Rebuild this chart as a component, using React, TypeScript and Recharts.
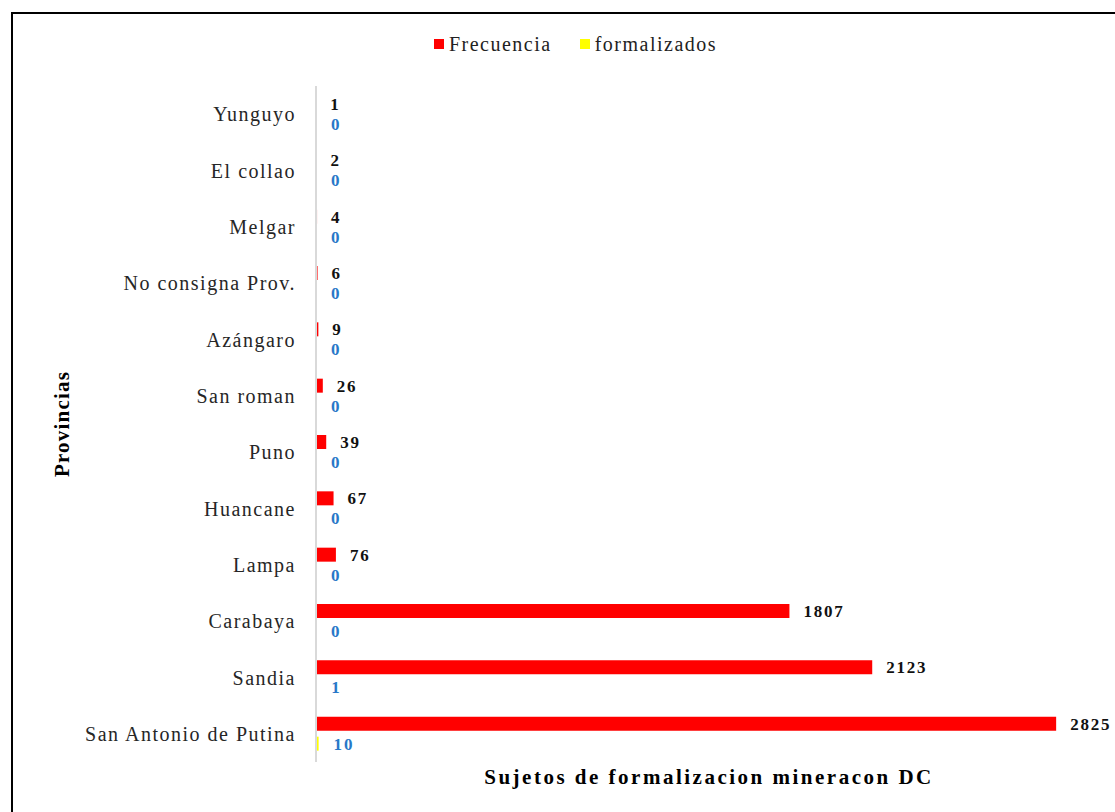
import React from 'react';
import { BarChart, Bar, XAxis, YAxis, Legend, LabelList } from 'recharts';

const provincias = [
  'Yunguyo',
  'El collao',
  'Melgar',
  'No consigna Prov.',
  'Azángaro',
  'San roman',
  'Puno',
  'Huancane',
  'Lampa',
  'Carabaya',
  'Sandia',
  'San Antonio de Putina',
];
const frecuencia = [1, 2, 4, 6, 9, 26, 39, 67, 76, 1807, 2123, 2825];
const formalizados = [0, 0, 0, 0, 0, 0, 0, 0, 0, 0, 1, 10];

const SERIF = '"Liberation Serif", "Times New Roman", serif';

const data = provincias.map((name, i) => ({
  name,
  frecuencia: frecuencia[i],
  formalizados: formalizados[i],
}));

// legend drawn by hand so the squares and spacing look like the Excel one
const renderLegend = () => (
  <div style={{ display: 'flex', justifyContent: 'center', height: 28, paddingLeft: 36, fontFamily: SERIF, fontSize: 20, letterSpacing: 1.5, color: '#222' }}>
    <span style={{ display: 'flex', alignItems: 'center', marginRight: 28 }}>
      <span style={{ width: 10, height: 10, background: '#FF0000', marginRight: 5 }} />
      Frecuencia
    </span>
    <span style={{ display: 'flex', alignItems: 'center' }}>
      <span style={{ width: 10, height: 10, background: '#FFFF00', marginRight: 5 }} />
      formalizados
    </span>
  </div>
);

const YTitle = (props: any) => {
  const { viewBox } = props;
  const x = viewBox.x + 62;
  const y = viewBox.y + viewBox.height / 2;
  return (
    <text x={x} y={y} transform={`rotate(-90 ${x} ${y})`} textAnchor="middle" dominantBaseline="central"
      fontFamily={SERIF} fontSize={21} fontWeight="bold" letterSpacing={1.2} fill="#000">
      Provincias
    </text>
  );
};

const XTitle = (props: any) => {
  const { viewBox } = props;
  return (
    <text x={viewBox.x + viewBox.width / 2} y={viewBox.y + 15} textAnchor="middle" dominantBaseline="central"
      fontFamily={SERIF} fontSize={21} fontWeight="bold" letterSpacing={2.5} fill="#000">
      Sujetos de formalizacion mineracon DC
    </text>
  );
};

export default function App() {
  return (
    <div style={{ position: 'absolute', left: 0, top: 0, width: 1115, height: 812, overflow: 'hidden', background: '#fff' }}>
      <div style={{ position: 'absolute', left: 11, top: 12, width: 1200, height: 900, border: '2px solid #000' }} />
      <BarChart
        width={1115}
        height={812}
        data={data}
        layout="vertical"
        margin={{ top: 58, right: 13, left: 0, bottom: 10 }}
        barSize={14}
        barGap={6}
      >
        <Legend verticalAlign="top" content={renderLegend} wrapperStyle={{ top: 30, left: 0, width: 1115 }} />
        <XAxis type="number" domain={[0, 3000]} tick={false} axisLine={false} tickLine={false} height={40} label={<XTitle />} />
        <YAxis
          type="category"
          dataKey="name"
          width={316}
          axisLine={{ stroke: '#d9d9d9', strokeWidth: 2 }}
          tickLine={false}
          tickSize={0}
          tickMargin={20}
          tick={{ fontFamily: SERIF, fontSize: 20, letterSpacing: 1.5, fill: '#262626' }}
          label={<YTitle />}
        />
        <Bar dataKey="frecuencia" name="Frecuencia" fill="#FF0000" minPointSize={0.01} isAnimationActive={false}>
          <LabelList dataKey="frecuencia" position="right" offset={14}
            style={{ fontFamily: SERIF, fontSize: 17, fontWeight: 'bold', letterSpacing: 1.8, fill: '#111' }} />
        </Bar>
        <Bar dataKey="formalizados" name="formalizados" fill="#FFFF00" minPointSize={0.01} isAnimationActive={false}>
          <LabelList dataKey="formalizados" position="right" offset={15}
            style={{ fontFamily: SERIF, fontSize: 17, fontWeight: 'bold', letterSpacing: 1.8, fill: '#2878C8' }} />
        </Bar>
      </BarChart>
    </div>
  );
}
